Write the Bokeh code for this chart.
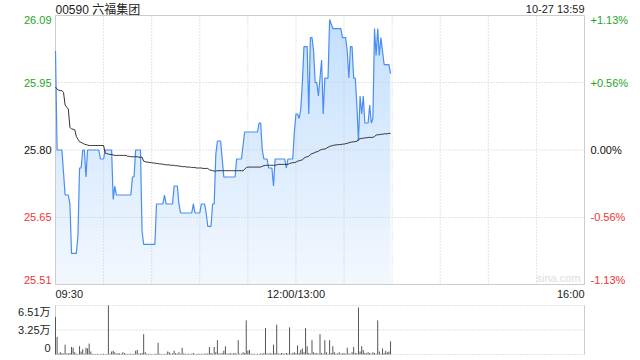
import numpy as np
from bokeh.plotting import figure
from bokeh.models import Range1d, Label
from bokeh.embed import file_html
from bokeh.resources import INLINE

# ---------------- data ----------------
title_text = "00590 六福集团"
stamp_text = "10-27 13:59"
watermark = "sina.com"
prev_close = 25.80
session_minutes = 330          # 09:30-12:00 + 13:00-16:00

price = [
    26.02, 25.80, 25.80, 25.80, 25.80, 25.75, 25.70, 25.70, 25.70, 25.68,
    25.57, 25.57, 25.57, 25.57, 25.61, 25.76, 25.76, 25.80, 25.80, 25.74,
    25.80, 25.80, 25.80, 25.80, 25.80, 25.80, 25.80, 25.80, 25.78, 25.78,
    25.78, 25.80, 25.80, 25.80, 25.80, 25.80, 25.69, 25.72, 25.70, 25.70,
    25.70, 25.70, 25.70, 25.70, 25.70, 25.70, 25.70, 25.70, 25.74, 25.74,
    25.80, 25.80, 25.80, 25.80, 25.62, 25.59, 25.59, 25.59, 25.59, 25.59,
    25.59, 25.59, 25.59, 25.68, 25.68, 25.68, 25.68, 25.68, 25.70, 25.68,
    25.68, 25.68, 25.68, 25.68, 25.72, 25.72, 25.72, 25.68, 25.66, 25.66,
    25.66, 25.66, 25.66, 25.66, 25.66, 25.66, 25.68, 25.66, 25.66, 25.66,
    25.66, 25.68, 25.68, 25.68, 25.66, 25.63, 25.63, 25.63, 25.68, 25.68,
    25.79, 25.82, 25.82, 25.82, 25.78, 25.74, 25.74, 25.74, 25.74, 25.74,
    25.74, 25.74, 25.74, 25.78, 25.78, 25.78, 25.78, 25.81, 25.84, 25.84,
    25.84, 25.84, 25.84, 25.84, 25.84, 25.84, 25.84, 25.86, 25.86, 25.80,
    25.78, 25.78, 25.78, 25.76, 25.76, 25.76, 25.72, 25.78, 25.78, 25.78,
    25.78, 25.78, 25.78, 25.78, 25.76, 25.78, 25.78, 25.78, 25.78, 25.84,
    25.88, 25.88, 25.87, 25.89, 25.95, 26.03, 26.03, 26.03, 25.88, 26.05,
    26.05, 26.02, 25.95, 25.95, 25.92, 25.96, 26.00, 25.88, 25.96, 25.96,
    25.96, 26.09, 26.08, 26.07, 26.07, 26.07, 26.07, 26.07, 26.07, 26.05,
    26.05, 26.05, 26.02, 25.96, 26.03, 26.03, 25.96, 25.96, 25.90, 25.82,
    25.92, 25.88, 25.92, 25.86, 25.86, 25.86, 25.90, 25.86, 25.87, 26.07,
    26.01, 26.07, 26.01, 26.05, 26.02, 25.99, 25.99, 25.99, 25.99, 25.97,
]

avg_price = [
    25.940, 25.935, 25.933, 25.932, 25.932, 25.928, 25.900, 25.895, 25.891, 25.850,
    25.847, 25.846, 25.845, 25.830, 25.824, 25.818, 25.817, 25.815, 25.813, 25.812,
    25.811, 25.810, 25.810, 25.810, 25.810, 25.810, 25.810, 25.810, 25.810, 25.810,
    25.810, 25.793, 25.792, 25.791, 25.790, 25.790, 25.789, 25.788, 25.788, 25.788,
    25.788, 25.788, 25.788, 25.788, 25.788, 25.786, 25.786, 25.785, 25.785, 25.785,
    25.785, 25.785, 25.784, 25.784, 25.784, 25.775, 25.774, 25.773, 25.773, 25.772,
    25.772, 25.771, 25.771, 25.770, 25.770, 25.769, 25.769, 25.768, 25.768, 25.767,
    25.767, 25.767, 25.766, 25.766, 25.766, 25.765, 25.765, 25.764, 25.764, 25.763,
    25.763, 25.763, 25.762, 25.762, 25.762, 25.761, 25.761, 25.761, 25.760, 25.760,
    25.760, 25.760, 25.759, 25.759, 25.759, 25.759, 25.756, 25.755, 25.754, 25.753,
    25.753, 25.754, 25.754, 25.754, 25.754, 25.754, 25.754, 25.754, 25.754, 25.754,
    25.754, 25.754, 25.754, 25.754, 25.754, 25.754, 25.754, 25.754, 25.757, 25.761,
    25.762, 25.762, 25.762, 25.762, 25.762, 25.762, 25.762, 25.762, 25.762, 25.764,
    25.765, 25.766, 25.766, 25.766, 25.766, 25.766, 25.766, 25.766, 25.767, 25.768,
    25.768, 25.768, 25.768, 25.768, 25.768, 25.768, 25.770, 25.771, 25.772, 25.772,
    25.773, 25.775, 25.776, 25.777, 25.778, 25.782, 25.784, 25.785, 25.786, 25.790,
    25.792, 25.793, 25.795, 25.796, 25.797, 25.800, 25.801, 25.802, 25.802, 25.804,
    25.806, 25.808, 25.809, 25.810, 25.811, 25.811, 25.812, 25.812, 25.812, 25.813,
    25.813, 25.814, 25.815, 25.816, 25.817, 25.818, 25.818, 25.819, 25.819, 25.824,
    25.825, 25.826, 25.826, 25.827, 25.827, 25.828, 25.828, 25.828, 25.828, 25.830,
    25.833, 25.834, 25.834, 25.835, 25.835, 25.836, 25.836, 25.836, 25.837, 25.837,
]

volume = [  # 万股
    4.97, 2.33, 0.12, 0.30, 0.20, 0.10, 1.30, 0.15, 0.15, 0.20,
    1.00, 0.90, 0.30, 0.10, 0.08, 1.10, 0.40, 0.70, 0.10, 0.90,
    0.80, 1.45, 0.40, 0.10, 0.08, 0.05, 0.10, 0.06, 0.05, 0.08,
    0.10, 0.06, 0.05, 6.51, 0.10, 0.40, 0.50, 0.30, 0.10, 0.20,
    0.15, 0.10, 0.30, 0.20, 0.10, 0.08, 0.10, 0.10, 0.06, 0.10,
    0.50, 0.60, 0.10, 0.15, 0.20, 2.70, 0.30, 0.10, 0.08, 0.10,
    0.06, 0.05, 0.10, 0.08, 1.54, 0.10, 0.06, 0.08, 0.05, 0.10,
    0.40, 0.30, 0.10, 0.15, 0.50, 0.20, 0.10, 0.30, 0.10, 0.90,
    0.15, 0.10, 0.08, 0.10, 0.06, 0.10, 0.20, 0.08, 0.06, 0.10,
    0.08, 0.10, 0.05, 0.12, 0.10, 0.15, 1.00, 0.20, 0.10, 1.00,
    0.30, 1.90, 0.15, 0.10, 0.20, 0.50, 1.10, 0.15, 0.10, 0.20,
    0.10, 0.15, 0.20, 0.10, 1.90, 0.10, 0.10, 0.30, 0.20, 4.53,
    0.50, 0.60, 0.10, 0.08, 0.10, 0.05, 0.10, 0.06, 0.15, 0.10,
    0.20, 3.52, 0.15, 0.10, 0.20, 0.10, 1.30, 0.20, 3.96, 0.15,
    0.10, 0.20, 0.15, 0.10, 0.20, 0.15, 3.60, 0.10, 0.20, 0.30,
    0.15, 1.20, 0.20, 0.60, 0.80, 0.30, 3.52, 1.10, 0.20, 0.10,
    1.90, 0.30, 0.15, 0.20, 0.10, 2.70, 0.20, 0.10, 1.90, 0.30,
    0.10, 1.90, 0.20, 1.10, 0.30, 0.10, 0.15, 0.30, 0.10, 0.15,
    0.20, 0.10, 0.90, 0.15, 0.10, 0.30, 1.00, 0.20, 0.15, 6.25,
    0.40, 1.10, 0.60, 0.20, 0.15, 0.30, 0.20, 0.10, 0.30, 0.20,
    0.10, 4.53, 0.40, 0.10, 0.80, 0.20, 0.50, 0.30, 0.40, 1.76,
]

price_ticks = [25.51, 25.65, 25.80, 25.95, 26.09]
price_labels = ["25.51", "25.65", "25.80", "25.95", "26.09"]
pct_labels = ["-1.13%", "-0.56%", "0.00%", "+0.56%", "+1.13%"]
time_ticks = [0, 150, 330]
time_labels = ["09:30", "12:00/13:00", "16:00"]
vol_ticks = [0, 3.25, 6.51]
vol_labels = ["0", "3.25万", "6.51万"]

# ---------------- layout geometry (pixels) ----------------
W, H = 640, 360
L, R = 55, 584            # plot frame left/right
PT, PB = 15, 284          # price panel top/bottom
VT, VB = 305, 354         # volume panel top/bottom
px_per_min = (R - L) / session_minutes
y_lo, y_hi = 25.501, 26.099
px_per_yuan = (PB - PT) / (y_hi - y_lo)
px_per_wan = (VB - VT) / vol_ticks[-1]

FONT = "Liberation Sans, Arial, Noto Sans CJK SC"
GREEN = "#1ea51e"
RED = "#f03232"
GRID = "#c8c8c8"
DOT = "1 2"

x_range = Range1d(-L / px_per_min, (W - L) / px_per_min)
y_range = Range1d(y_lo - (H - PB) / px_per_yuan, y_hi + PT / px_per_yuan)
vol_range = Range1d(-(H - VB) / px_per_wan, vol_ticks[-1] + VT / px_per_wan)

def py(pix):   # price-axis value at a canvas pixel row
    return y_hi - (pix - PT) / px_per_yuan

p = figure(width=W, height=H, output_backend="svg", toolbar_location=None,
           x_axis_type=None, y_axis_type=None, x_range=x_range, y_range=y_range,
           min_border=0)
p.extra_y_ranges = {"vol": vol_range}
p.outline_line_color = None
p.xgrid.visible = False
p.ygrid.visible = False
p.background_fill_color = "white"
p.border_fill_color = "white"

x = np.arange(len(price))
p_arr = np.array(price)

# gradient-like fill under the price line
p.varea(x=x, y1=y_lo, y2=p_arr, fill_color="#f4f8fe", fill_alpha=1.0)
for lv in np.linspace(y_lo, y_hi, 25)[:-1]:
    p.varea(x=x, y1=lv, y2=np.maximum(p_arr, lv), fill_color="#2f86ee", fill_alpha=0.0135)

# price panel grid + frame
vgrid = list(range(30, session_minutes, 30))
p.segment(x0=vgrid, y0=y_lo, x1=vgrid, y1=y_hi, line_color=GRID, line_dash=DOT, line_width=1)
hgrid = price_ticks[1:-1]
p.segment(x0=0, y0=hgrid, x1=session_minutes, y1=hgrid, line_color=GRID, line_dash=DOT, line_width=1)
p.quad(left=0, right=session_minutes, bottom=y_lo, top=y_hi, fill_color=None,
       line_color="#cccccc", line_width=1)

p.line(x, p_arr, line_color="#4a8df2", line_width=1.2)
p.line(x, avg_price, line_color="#333333", line_width=1)

for t, lab, pl in zip(price_ticks, price_labels, pct_labels):
    col = GREEN if t > prev_close + 1e-9 else (RED if t < prev_close - 1e-9 else "#111111")
    p.add_layout(Label(x=0, y=t, x_offset=-4, text=lab, text_align="right", text_baseline="middle",
                       text_font=FONT, text_font_size="11px", text_color=col))
    p.add_layout(Label(x=session_minutes, y=t, x_offset=6, text=pl, text_align="left",
                       text_baseline="middle", text_font=FONT, text_font_size="11px", text_color=col))

p.add_layout(Label(x=0, y=py(9), text=title_text, text_align="left", text_baseline="middle",
                   text_font=FONT, text_font_size="12px", text_color="#222222"))
p.add_layout(Label(x=session_minutes, y=py(8), text=stamp_text, text_align="right",
                   text_baseline="middle", text_font=FONT, text_font_size="11px", text_color="#222222"))
p.add_layout(Label(x=session_minutes, y=py(277), x_offset=-4, text=watermark, text_align="right",
                   text_baseline="middle", text_font=FONT, text_font_size="11px", text_color="#dddddd"))

aligns = ["left", "center", "right"]
for t, lab, al in zip(time_ticks, time_labels, aligns):
    p.add_layout(Label(x=t, y=py(293), text=lab, text_align=al, text_baseline="middle",
                       text_font=FONT, text_font_size="11px", text_color="#222222"))

# ---------------- volume panel ----------------
p.segment(x0=0, y0=vol_ticks, x1=session_minutes, y1=vol_ticks, line_color=GRID,
          line_dash=DOT, line_width=1, y_range_name="vol")
p.segment(x0=[0, session_minutes], y0=0, x1=[0, session_minutes], y1=vol_ticks[-1],
          line_color="#cccccc", line_width=1, y_range_name="vol")
p.segment(x0=x, y0=0, x1=x, y1=volume, line_color="#555555", line_width=1, y_range_name="vol")

baselines = ["middle", "middle", "top"]
offsets = [7, 0, 0]
for t, lab, bl, off in zip(vol_ticks, vol_labels, baselines, offsets):
    p.add_layout(Label(x=0, y=t, x_offset=-5, y_offset=off, text=lab, text_align="right",
                       text_baseline=bl, y_range_name="vol", text_font=FONT,
                       text_font_size="11px", text_color="#222222"))

open("out.html", "w").write(file_html(p, INLINE))
